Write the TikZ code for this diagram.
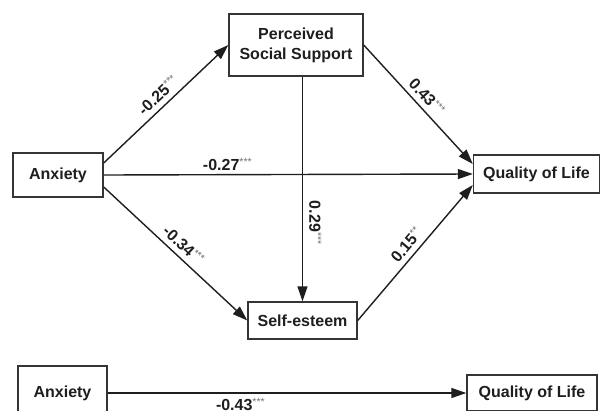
\documentclass[tikz,border=0pt]{standalone}
\usepackage{fontspec}
\setmainfont{Liberation Sans}
\usetikzlibrary{arrows.meta}
\definecolor{ink}{HTML}{1E1E1E}
\definecolor{boxline}{HTML}{353535}
\newcommand\sigstars[1]{\raisebox{5pt}{\fontsize{10.5}{10.5}\selectfont\mdseries\color{black!55}#1}}
\begin{document}
\begin{tikzpicture}[x=1pt,y=-1pt,
  box/.style={draw=boxline, line width=1.4pt, fill=white, inner sep=0pt,
    font=\fontsize{16}{20}\selectfont\bfseries, text=ink, align=center},
  path/.style={draw=ink, line width=1.4pt, -{Triangle[length=15pt,width=10pt]}},
  coef/.style={font=\fontsize{16}{18}\selectfont\bfseries, text=ink, inner sep=2pt}
]
\clip (0,0) rectangle (600,410);
\useasboundingbox (0,0) rectangle (600,410);

\node[box, minimum width=90pt, minimum height=44pt] (anx) at (58,175) {Anxiety};
\node[box, minimum width=134pt, minimum height=62pt] (pss) at (296,45) {Perceived\\Social Support};
\node[box, minimum width=126pt, minimum height=38pt] (qol) at (536.5,174) {Quality of Life};
\node[box, minimum width=109pt, minimum height=37pt] (se) at (302.5,320.5) {Self-esteem};

\node[box, minimum width=89pt, minimum height=54pt] (anx2) at (62.5,393) {Anxiety};
\node[box, minimum width=130pt, minimum height=36pt] (qol2) at (532,393) {Quality of Life};

\draw[path] ([yshift=12pt]anx.east) -- (pss.west)
  node[coef, midway, sloped, above=3pt] {-0.25\sigstars{***}};
\draw[path] (anx.east) -- (qol.west)
  node[coef, pos=0.335, above=1pt] {-0.27\sigstars{***}};
\draw[path] ([yshift=-12pt]anx.east) -- (se.west)
  node[coef, midway, sloped, above=3pt] {-0.34\sigstars{***}};
\draw[path] (pss.east) -- ([yshift=10pt]qol.west)
  node[coef, midway, sloped, above=3pt] {0.43\sigstars{***}};
\draw[path] (se.east) -- ([yshift=-11pt]qol.west)
  node[coef, midway, sloped, above=3pt] {0.15\sigstars{**}};
\draw[path] (se.north |- pss.south) -- (se.north)
  node[coef, pos=0.65, rotate=-90, anchor=south, yshift=4pt] {0.29\sigstars{***}};

\draw[path] (anx2.east) -- (qol2.west)
  node[coef, pos=0.37, below=3pt] {-0.43\sigstars{***}};
\end{tikzpicture}
\end{document}
